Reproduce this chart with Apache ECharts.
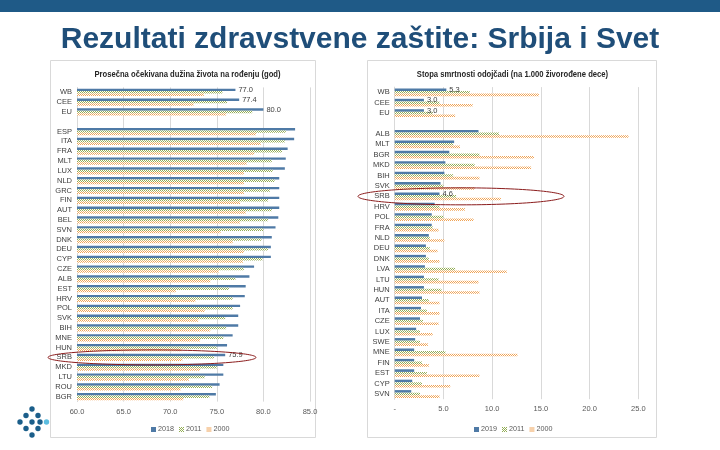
<!DOCTYPE html>
<html><head><meta charset="utf-8">
<script src="https://cdn.jsdelivr.net/npm/echarts@6.0.0/dist/echarts.min.js"></script>
<style>html,body{margin:0;padding:0;background:#fff;}#c{width:720px;height:450px;}</style>
</head><body><div id="c"></div>
<script>
// ---------- DATA ----------
const mainTitle = 'Rezultati zdravstvene zaštite: Srbija i Svet';
const leftTitle = 'Prosečna očekivana dužina života na rođenju (god)';
const rightTitle = 'Stopa smrtnosti odojčadi (na 1.000 živorođene dece)';

const leftCategories = ['WB','CEE','EU','','ESP','ITA','FRA','MLT','LUX','NLD','GRC','FIN','AUT','BEL','SVN','DNK','DEU','CYP','CZE','ALB','EST','HRV','POL','SVK','BIH','MNE','HUN','SRB','MKD','LTU','ROU','BGR'];
const life2018 = [77.0,77.4,80.0,null,83.4,83.3,82.6,82.4,82.3,81.7,81.7,81.7,81.7,81.6,81.3,80.9,80.8,80.8,79.0,78.5,78.1,78.0,77.5,77.3,77.3,76.7,76.1,75.9,75.7,75.7,75.3,74.9];
const life2011 = [75.6,76.1,78.8,null,82.4,82.3,82.0,80.9,81.0,81.2,80.7,80.5,80.9,80.5,80.0,79.8,80.5,79.9,77.9,77.0,76.3,76.7,76.7,75.9,76.0,75.7,75.0,74.7,75.0,73.7,74.5,74.2];
const life2000 = [73.6,72.5,76.0,null,79.2,79.7,79.0,78.2,77.9,77.9,77.9,77.5,78.1,77.5,75.4,76.7,77.9,77.8,75.2,74.3,70.6,72.7,73.7,73.0,74.3,73.2,71.2,71.3,73.2,72.0,71.1,71.4];
const leftSeriesNames = ['2018','2011','2000'];
const leftAxisMin = 60, leftAxisMax = 85, leftAxisStep = 5;

const rightCategories = ['WB','CEE','EU','','ALB','MLT','BGR','MKD','BIH','SVK','SRB','HRV','POL','FRA','NLD','DEU','DNK','LVA','LTU','HUN','AUT','ITA','CZE','LUX','SWE','MNE','FIN','EST','CYP','SVN'];
const infant2019 = [5.3,3.0,3.0,null,8.6,6.1,5.6,5.2,5.1,4.7,4.6,4.1,3.8,3.8,3.5,3.2,3.2,3.1,3.0,3.0,2.8,2.7,2.6,2.2,2.1,2.0,2.0,2.0,1.8,1.7];
const infant2011 = [7.7,4.6,3.9,null,10.7,6.0,8.7,8.2,6.0,5.0,6.3,4.6,5.0,3.9,3.6,3.6,3.5,6.2,4.5,4.8,3.5,3.3,2.9,2.6,2.6,5.2,2.8,3.3,2.8,2.6];
const infant2000 = [14.8,8.0,6.2,null,24.0,6.7,14.3,14.0,8.7,8.2,10.9,7.2,8.1,4.5,5.1,4.4,4.6,11.5,8.6,8.7,4.6,4.6,4.5,3.9,3.4,12.6,3.5,8.7,5.7,4.6];
const rightSeriesNames = ['2019','2011','2000'];
const rightAxisMin = 0, rightAxisMax = 25, rightAxisStep = 5;

const labeledRows = ['WB','CEE','EU','SRB'];
const highlightRow = 'SRB';

// ---------- STYLE ----------
const BLUE = '#4f7aa6', GREEN = '#93ad55', ORANGE = '#f0a457';
const FONT = 'Liberation Sans, Arial, sans-serif';

function pattern(color){
  const c = document.createElement('canvas'); c.width = 4; c.height = 4;
  const g = c.getContext('2d');
  g.fillStyle = '#ffffff'; g.fillRect(0,0,4,4);
  g.fillStyle = color;
  for (let y=0;y<4;y++) for (let x=0;x<4;x++) if ((x+y)%2===0) g.fillRect(x,y,1,1);
  return {image:c, repeat:'repeat'};
}
const colorsL = [BLUE, pattern(GREEN), pattern(ORANGE)];

function barSeries(name, values, cats, idx, color, withLabels, bw){
  return {
    type:'bar', name, xAxisIndex:idx, yAxisIndex:idx, barWidth:bw, barGap:'0%', barCategoryGap:'20%',
    itemStyle:{color}, animation:false,
    label:{position:'right', distance:3, fontSize:7.5, fontFamily:FONT, color:'#404040',
      formatter:p => (p.value==null ? '' : Number(p.value).toFixed(1))},
    data: values.map((v,i)=>({value:v, label:{show: withLabels && labeledRows.includes(cats[i])}}))
  };
}

const axisLabelStyle = {fontSize:7.5, fontFamily:FONT, color:'#595959'};

const chart = echarts.init(document.getElementById('c'), null, {renderer:'canvas'});

const logoDots = [[32,409,0],[26,415.5,0],[38,415.5,0],[20,422,0],[32,422,0],[40,422,0],[46.5,422,1],[26,428.5,0],[38,428.5,0],[32,435,0]];

const legendText = {fontSize:7.2, fontFamily:FONT, color:'#595959', padding:[0,0,0,-3]};

const option = {
  animation:false,
  grid:[
    {left:77, right:410, top:87.4, bottom:48.4, containLabel:false},
    {left:394.7, right:81.7, top:87.1, bottom:50.8, containLabel:false}
  ],
  xAxis:[
    {gridIndex:0, type:'value', min:leftAxisMin, max:leftAxisMax, interval:leftAxisStep,
     axisLine:{show:false}, axisTick:{show:false},
     splitLine:{show:true, lineStyle:{color:'#d9d9d9', width:1}},
     axisLabel:Object.assign({margin:6, formatter:v=>v.toFixed(1)}, axisLabelStyle)},
    {gridIndex:1, type:'value', min:rightAxisMin, max:rightAxisMax, interval:rightAxisStep,
     axisLine:{show:false}, axisTick:{show:false},
     splitLine:{show:true, lineStyle:{color:'#d9d9d9', width:1}},
     axisLabel:Object.assign({margin:6, formatter:v=> v===0 ? '-' : v.toFixed(1)}, axisLabelStyle)}
  ],
  yAxis:[
    {gridIndex:0, type:'category', data:leftCategories, inverse:true,
     axisLine:{show:true, lineStyle:{color:'#d9d9d9'}}, axisTick:{show:false},
     axisLabel:Object.assign({margin:5, interval:0}, axisLabelStyle, {color:'#404040'})},
    {gridIndex:1, type:'category', data:rightCategories, inverse:true,
     axisLine:{show:true, lineStyle:{color:'#d9d9d9'}}, axisTick:{show:false},
     axisLabel:Object.assign({margin:5, interval:0}, axisLabelStyle, {color:'#404040'})}
  ],
  legend:[
    {data:leftSeriesNames, left:146, top:421, itemWidth:5, itemHeight:5, itemGap:5, icon:'rect',
     textStyle:legendText, selectedMode:false},
    {data:rightSeriesNames, left:469, top:421, itemWidth:5, itemHeight:5, itemGap:5, icon:'rect',
     textStyle:legendText, selectedMode:false}
  ],
  series:[
    barSeries(leftSeriesNames[0], life2018, leftCategories, 0, colorsL[0], true, 2.4),
    barSeries(leftSeriesNames[1], life2011, leftCategories, 0, colorsL[1], false, 2.4),
    barSeries(leftSeriesNames[2], life2000, leftCategories, 0, colorsL[2], false, 2.4),
    barSeries(rightSeriesNames[0], infant2019, rightCategories, 1, colorsL[0], true, 2.6),
    barSeries(rightSeriesNames[1], infant2011, rightCategories, 1, colorsL[1], false, 2.6),
    barSeries(rightSeriesNames[2], infant2000, rightCategories, 1, colorsL[2], false, 2.6)
  ],
  graphic:[
    {type:'rect', z:-10, shape:{x:0,y:0,width:720,height:12}, style:{fill:'#1f5a87'}},
    {type:'text', z:10, x:360, y:40, style:{text:mainTitle, fontSize:30, fontWeight:'bold', fontFamily:FONT, fill:'#1f4e79', align:'center', verticalAlign:'middle'}},
    {type:'rect', z:-10, shape:{x:50.5,y:60.5,width:265,height:377}, style:{fill:'#fff', stroke:'#d9d9d9', lineWidth:1}},
    {type:'rect', z:-10, shape:{x:367.5,y:60.5,width:289,height:377}, style:{fill:'#fff', stroke:'#d9d9d9', lineWidth:1}},
    {type:'text', z:10, x:187.5, y:75, scaleX:0.9, style:{text:leftTitle, fontSize:8.5, fontWeight:'bold', fontFamily:FONT, fill:'#262626', align:'center', verticalAlign:'middle'}},
    {type:'text', z:10, x:512.5, y:75, scaleX:0.9, style:{text:rightTitle, fontSize:8.5, fontWeight:'bold', fontFamily:FONT, fill:'#262626', align:'center', verticalAlign:'middle'}}
  ].concat(logoDots.map(d=>({type:'circle', z:10, shape:{cx:d[0], cy:d[1], r:2.7}, style:{fill: d[2] ? '#5bbde0' : '#1b5e8a'}})))
};
chart.setOption(option);

// Highlight ellipses around the SRB rows, positioned from the category axes
const yL = chart.convertToPixel({yAxisIndex:0}, highlightRow);
const yR = chart.convertToPixel({yAxisIndex:1}, highlightRow);
chart.setOption({graphic: option.graphic.concat([
  {type:'ellipse', z:20, shape:{cx:152, cy:yL, rx:104, ry:7.5}, style:{fill:null, stroke:'#8b1c1c', lineWidth:1}},
  {type:'ellipse', z:20, shape:{cx:461, cy:yR, rx:103, ry:8.5}, style:{fill:null, stroke:'#8b1c1c', lineWidth:1}}
])});
</script>
</body></html>
